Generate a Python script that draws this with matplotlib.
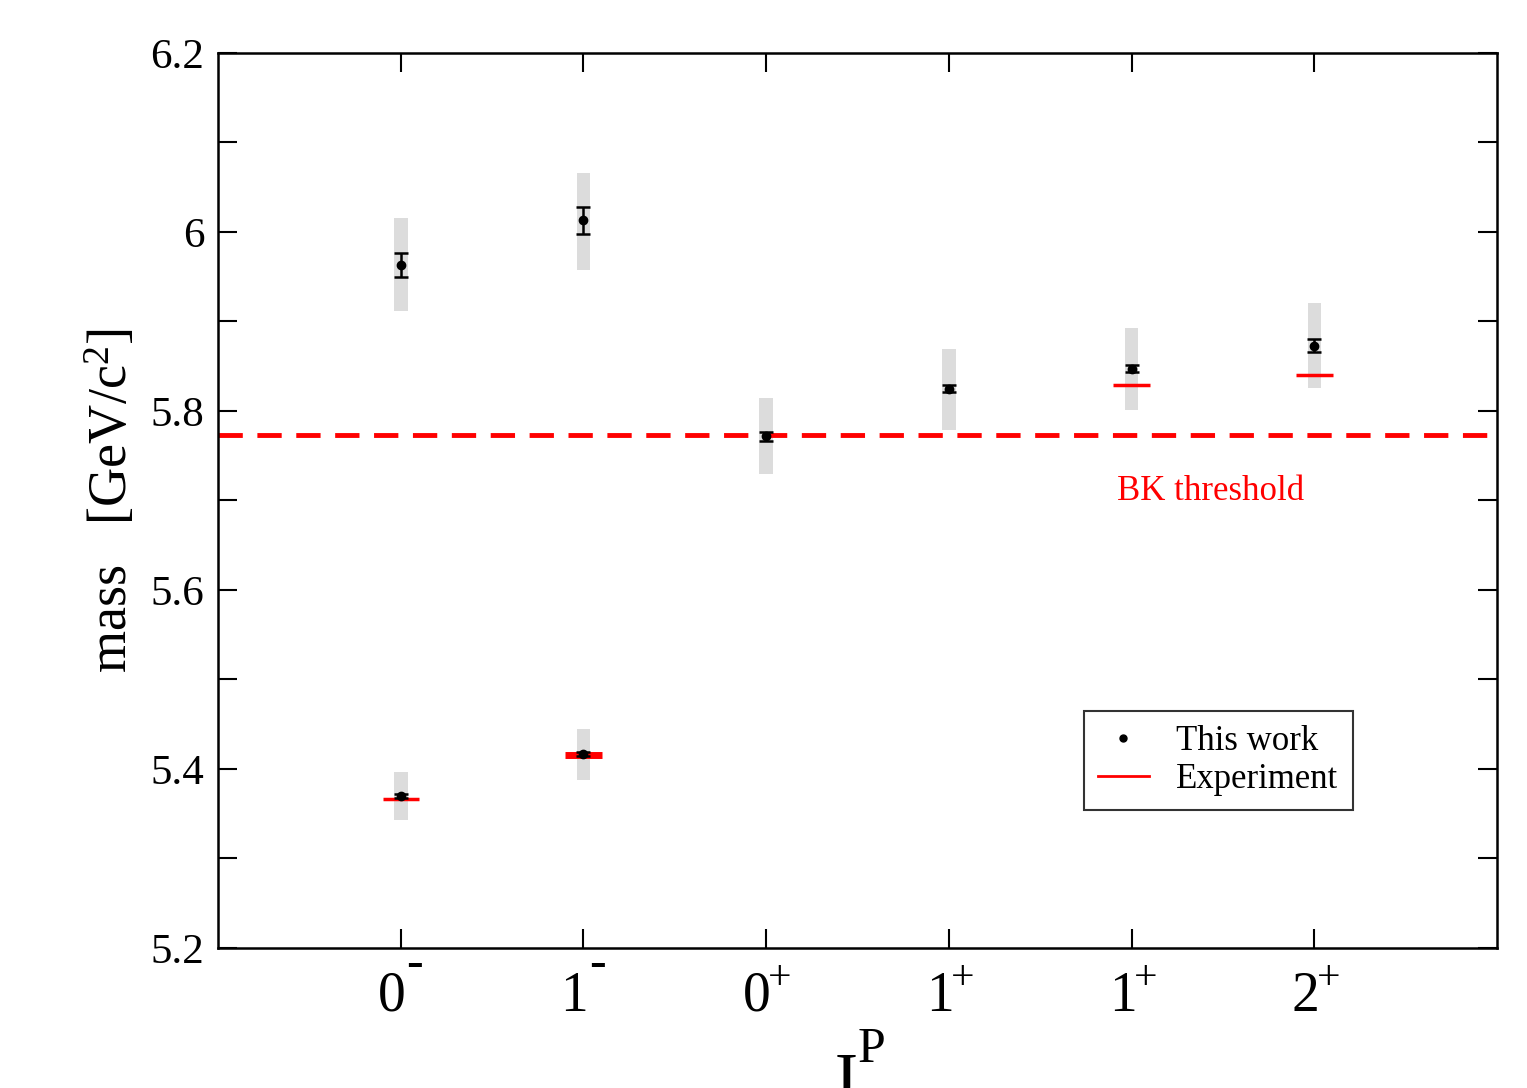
import numpy as np
import matplotlib
matplotlib.use('Agg')
import matplotlib.pyplot as plt
from matplotlib.ticker import MultipleLocator

plt.rcParams['font.family'] = ['Liberation Serif', 'DejaVu Serif']
plt.rcParams['mathtext.fontset'] = 'custom'
plt.rcParams['mathtext.rm'] = 'Liberation Serif'
plt.rcParams['mathtext.it'] = 'Liberation Serif'

# channel positions and labels (J and parity)
xpos = [1, 2, 3, 4, 5, 6]
spins = ['0', '1', '0', '1', '1', '2']
parity = ['-', '-', '+', '+', '+', '+']

# this work: x, mass, stat error, band low, band high
work_x = [1, 2, 1, 2, 3, 4, 5, 6]
work_m = [5.963, 6.013, 5.370, 5.417, 5.772, 5.825, 5.847, 5.873]
work_err = [0.013, 0.015, 0.002, 0.002, 0.005, 0.004, 0.004, 0.007]
band_lo = [5.912, 5.958, 5.343, 5.388, 5.730, 5.779, 5.801, 5.826]
band_hi = [6.016, 6.066, 5.397, 5.445, 5.815, 5.869, 5.893, 5.921]

# experiment
exp_x = [1, 2, 5, 6]
exp_m = [5.3669, 5.4154, 5.8287, 5.8397]
exp_lw = [2.5, 5, 2.5, 2.5]

bk_threshold = 5.7727

fig = plt.figure(figsize=(15.27, 10.88), dpi=100)
ax = fig.add_axes([0.1428, 0.1287, 0.8376, 0.8226])

# grey bands
ax.bar(work_x, np.array(band_hi) - np.array(band_lo), bottom=band_lo,
       width=0.075, color='#dcdcdc', zorder=1)

# threshold
ax.axhline(bk_threshold, color='red', lw=3.5, dashes=(5, 3), zorder=2)

# experiment
for x, m, lw in zip(exp_x, exp_m, exp_lw):
    ax.hlines(m, x - 0.1, x + 0.1, color='red', lw=lw, zorder=3)
ax.plot([], [], color='red', lw=2, label='Experiment')

# this work
ax.errorbar(work_x, work_m, yerr=work_err, fmt='o', color='black', ms=6,
            elinewidth=1.8, capsize=5, capthick=1.8, zorder=4)
ax.plot([], [], 'o', color='black', ms=5, label='This work')

ax.text(5.43, 5.71, 'BK threshold', color='red', fontsize=25, ha='center', va='center')

ax.set_xlim(0, 7)
ax.set_ylim(5.2, 6.2)
ax.set_xticks(xpos)
ax.set_xticklabels([])
# J^P tick labels: digit plus raised parity sign
for x, s, p in zip(xpos, spins, parity):
    ax.annotate(s, xy=(x, 0), xycoords=('data', 'axes fraction'),
                xytext=(-6.5, -16.5), textcoords='offset points', ha='center',
                va='top', fontsize=40)
    if p == '-':
        ax.annotate('-', xy=(x, 0), xycoords=('data', 'axes fraction'),
                    xytext=(10, -12), textcoords='offset points', ha='center',
                    va='center', fontsize=36, fontweight='bold')
    else:
        ax.annotate('+', xy=(x, 0), xycoords=('data', 'axes fraction'),
                    xytext=(10, -22.5), textcoords='offset points', ha='center',
                    va='center', fontsize=30)

ax.yaxis.set_minor_locator(MultipleLocator(0.1))
ax.set_yticks([5.2, 5.4, 5.6, 5.8, 6.0, 6.2])
ax.set_yticklabels(['5.2', '5.4', '5.6', '5.8', '6', '6.2'], fontsize=31)
ax.tick_params(direction='in', which='both', top=True, right=True, width=1.5)
ax.tick_params(which='major', length=14)
ax.tick_params(which='minor', length=14)
ax.tick_params(axis='y', pad=10)
for s in ax.spines.values():
    s.set_linewidth(1.8)

ax.set_ylabel(r'mass   [GeV/c$^{2}$]', fontsize=39, labelpad=8)
fig.text(0.552, 1 - 1052 / 1088, 'J', fontsize=52, ha='center', va='top')
fig.text(0.571, 1 - 1026 / 1088, 'P', fontsize=36, ha='center', va='top')

handles, labels = ax.get_legend_handles_labels()
leg = ax.legend(handles[::-1], labels[::-1], loc='lower right',
                bbox_to_anchor=(0.887, 0.154), borderaxespad=0, fontsize=25,
                frameon=True, fancybox=False, edgecolor='black',
                handlelength=1.47, handletextpad=0.8,
                borderpad=0.4, labelspacing=0.15)
leg.get_frame().set_linewidth(1.5)

fig.savefig('out.png', dpi=100)
